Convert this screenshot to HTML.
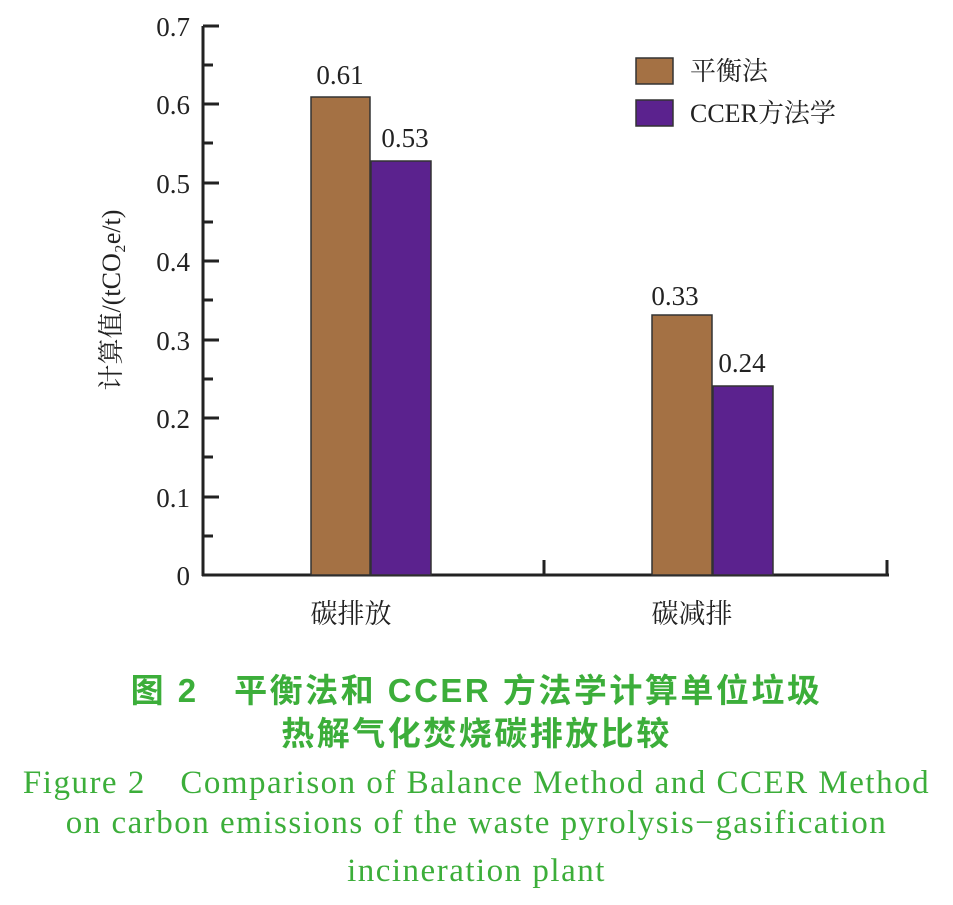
<!DOCTYPE html>
<html><head><meta charset="utf-8"><style>
body{margin:0;background:#fff;width:953px;height:905px;overflow:hidden}
.cap{position:absolute;left:0;width:953px;text-align:center;color:#3cae3a;font-family:"Liberation Serif","Noto Serif CJK SC",serif;white-space:nowrap}
.en{font-size:33px;letter-spacing:1.5px}
.zh{font-size:33px;font-weight:bold;letter-spacing:2.5px;font-family:'Liberation Sans','Noto Sans CJK SC',sans-serif}
</style></head><body>
<svg width="953" height="660" style="position:absolute;left:0;top:0" font-family="Liberation Serif, Noto Serif CJK SC, serif">
<g stroke="#222" stroke-width="3" fill="none">
<line x1="203" y1="26" x2="203" y2="576"/>
<line x1="202" y1="575" x2="889" y2="575"/>
<line x1="371" y1="575" x2="371" y2="560"/>
<line x1="544" y1="575" x2="544" y2="560"/>
<line x1="887" y1="575" x2="887" y2="560"/>
</g>
<g stroke="#222" stroke-width="3">
<line x1="203" x2="219" y1="26" y2="26"/><line x1="203" x2="213" y1="65" y2="65"/>
<line x1="203" x2="219" y1="104" y2="104"/><line x1="203" x2="213" y1="143" y2="143"/>
<line x1="203" x2="219" y1="183" y2="183"/><line x1="203" x2="213" y1="222" y2="222"/>
<line x1="203" x2="219" y1="261" y2="261"/><line x1="203" x2="213" y1="300" y2="300"/>
<line x1="203" x2="219" y1="340" y2="340"/><line x1="203" x2="213" y1="379" y2="379"/>
<line x1="203" x2="219" y1="418" y2="418"/><line x1="203" x2="213" y1="457" y2="457"/>
<line x1="203" x2="219" y1="497" y2="497"/><line x1="203" x2="213" y1="536" y2="536"/>
</g>
<g font-size="27" fill="#222" text-anchor="end">
<text x="190" y="36">0.7</text><text x="190" y="114">0.6</text><text x="190" y="193">0.5</text>
<text x="190" y="271">0.4</text><text x="190" y="350">0.3</text><text x="190" y="428">0.2</text>
<text x="190" y="507">0.1</text><text x="190" y="585">0</text>
</g>
<g stroke="#333" stroke-width="1.5">
<rect x="311" y="97" width="59" height="478" fill="#a47144"/>
<rect x="371" y="161" width="60" height="414" fill="#5b228e"/>
<rect x="652" y="315" width="60" height="260" fill="#a47144"/>
<rect x="713" y="386" width="60" height="189" fill="#5b228e"/>
</g>
<g font-size="27" fill="#222" text-anchor="middle">
<text x="340" y="84">0.61</text><text x="405" y="147">0.53</text>
<text x="675" y="305">0.33</text><text x="742" y="372">0.24</text>
</g>
<rect x="636" y="58" width="37" height="26" fill="#a47144" stroke="#333" stroke-width="1.5"/>
<rect x="636" y="100" width="37" height="26" fill="#5b228e" stroke="#333" stroke-width="1.5"/>
<text x="690" y="80" font-size="26" fill="#222">平衡法</text>
<text x="690" y="122" font-size="26" fill="#222">CCER方法学</text>
<text x="351" y="623" font-size="27" fill="#222" text-anchor="middle">碳排放</text>
<text x="692" y="623" font-size="27" fill="#222" text-anchor="middle">碳减排</text>
<text transform="translate(120,300) rotate(-90)" font-size="26" fill="#222" text-anchor="middle">计算值/(tCO₂e/t)</text>
</svg>
<div class="cap zh" style="top:664px">图 2　平衡法和 CCER 方法学计算单位垃圾</div>
<div class="cap zh" style="top:707px">热解气化焚烧碳排放比较</div>
<div class="cap en" style="top:756px">Figure 2　Comparison of Balance Method and CCER Method</div>
<div class="cap en" style="top:805px">on carbon emissions of the waste pyrolysis−gasification</div>
<div class="cap en" style="top:853px">incineration plant</div>
</body></html>
